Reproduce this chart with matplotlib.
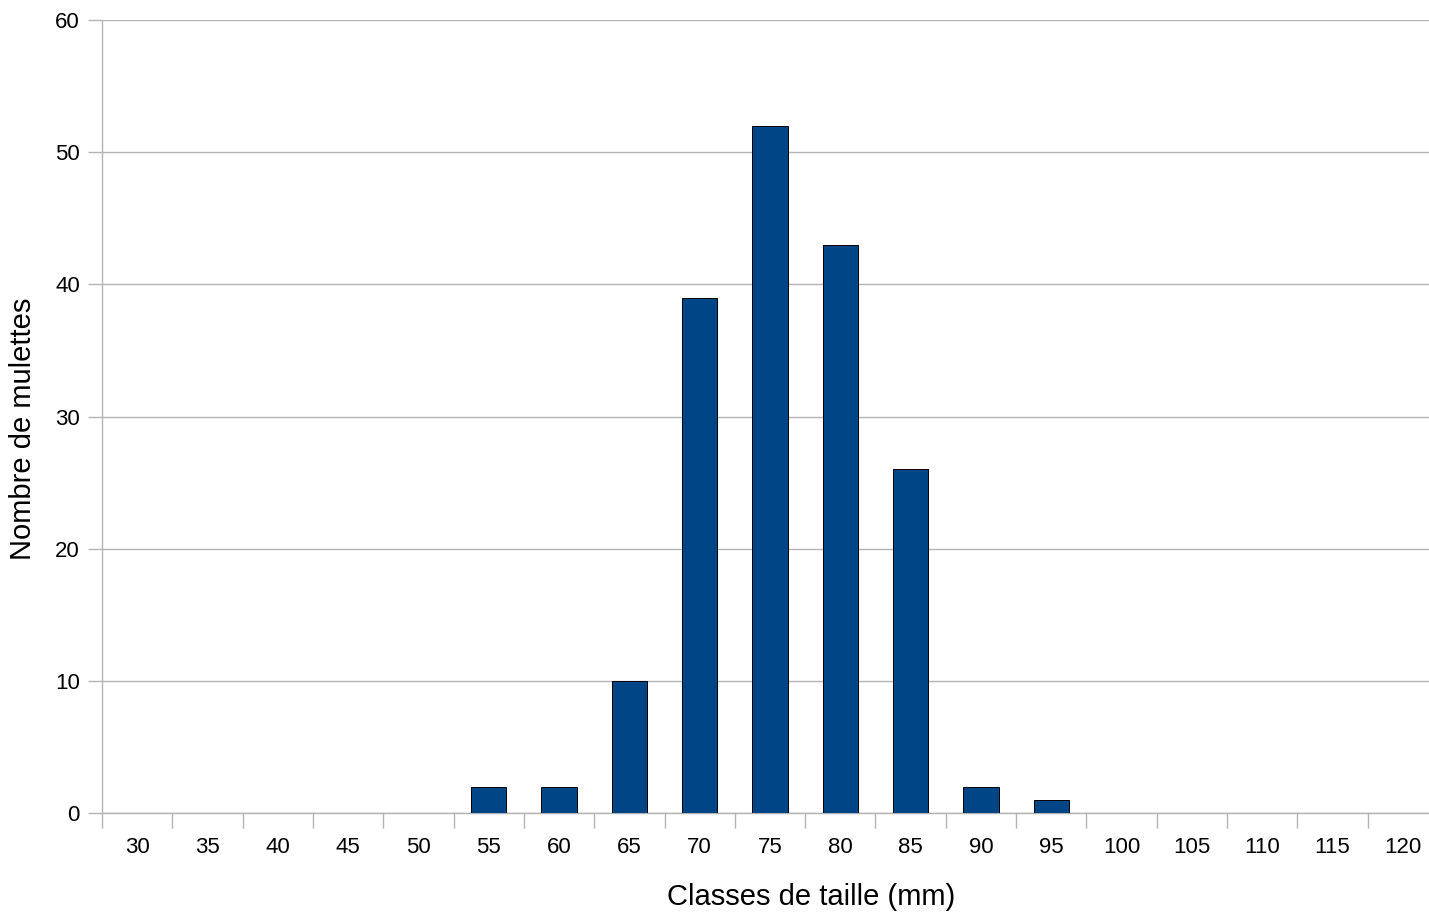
import matplotlib.pyplot as plt
import numpy as np

plt.rcParams['font.family'] = ['Liberation Sans', 'DejaVu Sans']

classes = [30, 35, 40, 45, 50, 55, 60, 65, 70, 75, 80, 85, 90, 95, 100, 105, 110, 115, 120]
counts = [0, 0, 0, 0, 0, 2, 2, 10, 39, 52, 43, 26, 2, 1, 0, 0, 0, 0, 0]

grey = '#b3b3b3'
W, H = 1429, 915

fig = plt.figure(figsize=(W / 100, H / 100), dpi=100)
# the plot area runs a little past the right edge of the picture
ax = fig.add_axes([102 / W, 1 - 813 / H, (1438 - 102) / W, (813 - 20) / H])

x = np.arange(len(classes))
ax.bar(x, counts, width=0.5, color='#004586', edgecolor='black', linewidth=0.7, zorder=3)

ax.set_xlim(-0.5, len(classes) - 0.5)
ax.set_ylim(0, 60)
ax.set_yticks(range(0, 61, 10))
ax.grid(axis='y', color=grey, linewidth=1, zorder=0)

ax.set_xticks(x)
ax.set_xticklabels([str(c) for c in classes])
ax.set_xticks(np.arange(-0.5, len(classes), 1), minor=True)
ax.tick_params(axis='x', which='major', length=0, pad=17, labelsize=16)
ax.tick_params(axis='x', which='minor', length=11, color=grey, width=1)
ax.tick_params(axis='y', length=10, color=grey, width=1, pad=6, labelsize=16)

for side in ['top', 'right']:
    ax.spines[side].set_visible(False)
for side in ['left', 'bottom']:
    ax.spines[side].set_color(grey)
    ax.spines[side].set_linewidth(1)

# axis titles placed where the reference has them
fig.text(811 / W, 1 - 897 / H, 'Classes de taille (mm)', fontsize=21,
         ha='center', va='center')
fig.text(23 / W, 1 - 429 / H, 'Nombre de mulettes', fontsize=21,
         ha='center', va='center', rotation=90)

fig.savefig('out.png', dpi=100)
